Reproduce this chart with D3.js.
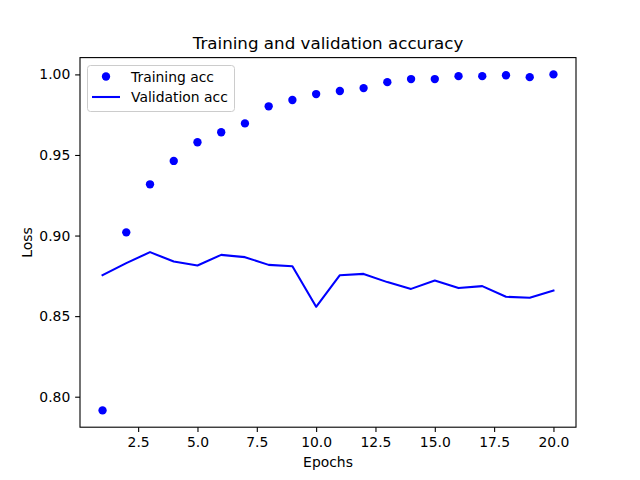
<!DOCTYPE html>
<html><head><meta charset="utf-8">
<script src="https://cdn.jsdelivr.net/npm/d3@7"></script>
<style>body{margin:0;background:#fff}svg{display:block}text{font-family:"DejaVu Sans",sans-serif}</style>
</head><body>
<script>
const epochs = [1,2,3,4,5,6,7,8,9,10,11,12,13,14,15,16,17,18,19,20];
const trainAcc = [0.7915,0.902,0.9318,0.9463,0.9579,0.9641,0.9696,0.9802,0.9841,0.9878,0.9897,0.9915,0.9952,0.9971,0.9971,0.9989,0.9989,0.9995,0.9983,1.0];
const valAcc = [0.8754,0.8829,0.8897,0.8839,0.8814,0.888,0.8866,0.8818,0.881,0.8558,0.8754,0.8762,0.8711,0.8669,0.8721,0.8674,0.8686,0.862,0.8614,0.8659];
const xTicks = [2.5,5.0,7.5,10.0,12.5,15.0,17.5,20.0];
const yTicks = [0.80,0.85,0.90,0.95,1.00];

const W=640,H=480, L=80, R=576, T=57.6, B=427.2;
const svg=d3.select("body").append("svg").attr("width",W).attr("height",H);
const xmin=d3.min(epochs), xmax=d3.max(epochs), xm=(xmax-xmin)*0.05;
const all=trainAcc.concat(valAcc);
const ymin=d3.min(all), ymax=d3.max(all), ym=(ymax-ymin)*0.05;
const x=d3.scaleLinear().domain([xmin-xm,xmax+xm]).range([L,R]);
const y=d3.scaleLinear().domain([ymin-ym,ymax+ym]).range([B,T]);

const xa=svg.append("g").attr("transform",`translate(0,${B})`)
  .call(d3.axisBottom(x).tickValues(xTicks).tickFormat(d3.format(".1f")).tickSize(4.86).tickPadding(4.86));
const ya=svg.append("g").attr("transform",`translate(${L},0)`)
  .call(d3.axisLeft(y).tickValues(yTicks).tickFormat(d3.format(".2f")).tickSize(4.86).tickPadding(4.86));
[xa,ya].forEach(a=>{a.select(".domain").remove();a.selectAll("line").attr("stroke","#000").attr("stroke-width",1.1);
  a.selectAll("text").attr("font-size","13.9px").attr("fill","#000").attr("font-family","DejaVu Sans");});

const line=d3.line().x((d,i)=>x(epochs[i])).y(d=>y(d));
svg.append("path").datum(valAcc).attr("d",line).attr("fill","none").attr("stroke","#0000ff").attr("stroke-width",2.08).attr("stroke-linejoin","round").attr("stroke-linecap","square");
svg.append("g").selectAll("circle").data(trainAcc).join("circle")
  .attr("cx",(d,i)=>x(epochs[i])).attr("cy",d=>y(d)).attr("r",4.17).attr("fill","#0000ff");

svg.append("rect").attr("x",L).attr("y",T).attr("width",R-L).attr("height",B-T).attr("fill","none").attr("stroke","#000").attr("stroke-width",1.1);

svg.append("text").attr("x",(L+R)/2).attr("y",T-8.5).attr("text-anchor","middle").attr("font-size","16.7px").text("Training and validation accuracy");
svg.append("text").attr("x",(L+R)/2).attr("y",467).attr("text-anchor","middle").attr("font-size","13.9px").text("Epochs");
svg.append("text").attr("transform",`translate(32,${(T+B)/2}) rotate(-90)`).attr("text-anchor","middle").attr("font-size","13.9px").text("Loss");

// legend
const lg=svg.append("g");
lg.append("rect").attr("x",87.5).attr("y",65.5).attr("width",147).attr("height",46).attr("rx",3).attr("fill","#fff").attr("fill-opacity",0.8).attr("stroke","#cccccc").attr("stroke-width",1);
lg.append("circle").attr("cx",106).attr("cy",76.5).attr("r",4.17).attr("fill","#0000ff");
lg.append("line").attr("x1",92).attr("x2",120).attr("y1",97).attr("y2",97).attr("stroke","#0000ff").attr("stroke-width",2.08);
lg.append("text").attr("x",131).attr("y",81.5).attr("font-size","13.9px").text("Training acc");
lg.append("text").attr("x",131).attr("y",102).attr("font-size","13.9px").text("Validation acc");
</script>
</body></html>
